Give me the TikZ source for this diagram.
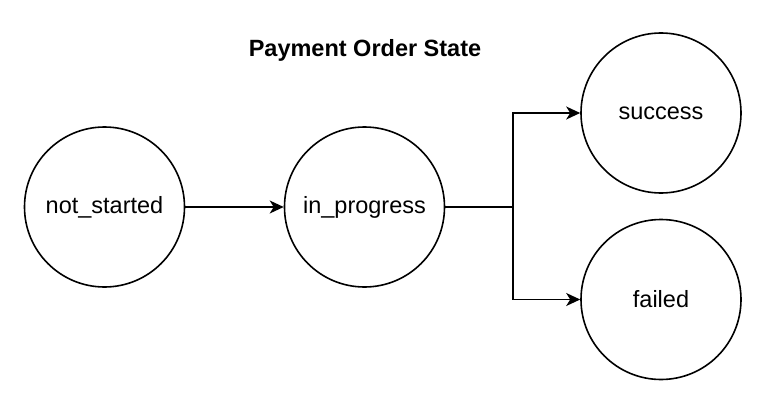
\documentclass[tikz,border=0pt]{standalone}
\usepackage{fontspec}
\setmainfont{Liberation Sans}
\usetikzlibrary{arrows.meta}
\begin{document}
\begin{tikzpicture}[x=1pt,y=-1pt,
  state/.style={circle,draw=black,line width=1.6pt,minimum size=160pt,inner sep=0pt,font=\fontsize{23.5}{28}\selectfont},
  conn/.style={line width=1.6pt,-{Stealth[length=14pt,width=13pt,inset=4pt]}}]
\useasboundingbox (0,0) rectangle (766,404);
\node[font=\bfseries\fontsize{23.5}{28}\selectfont] (title) at (365,50) {Payment Order State};
\node[state] (ns) at (104.5,207) {not\_started};
\node[state] (ip) at (364.5,207) {in\_progress};
\node[state] (su) at (661,113) {success};
\node[state] (fa) at (661,299.5) {failed};
\coordinate (br) at (513,207);
\draw[conn] (ns) -- (ip);
\draw[conn] (ip.east) -- (br) |- (su.west);
\draw[conn] (br) |- (fa.west);
\end{tikzpicture}
\end{document}
